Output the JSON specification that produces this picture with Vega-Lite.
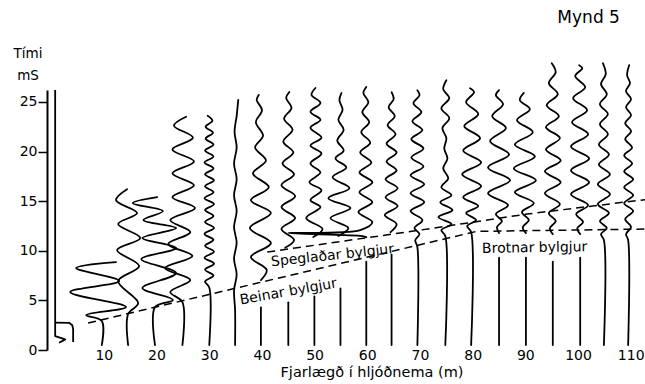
{
  "$schema": "https://vega.github.io/schema/vega-lite/v6.json",
  "width": 598,
  "height": 260,
  "autosize": {"type": "none"},
  "padding": {"left": 47, "top": 90, "right": 0, "bottom": 34},
  "background": "white",
  "config": {
    "view": {"stroke": null},
    "font": "DejaVu Sans",
    "axis": {"grid": false, "labelFont": "DejaVu Sans", "titleFont": "DejaVu Sans", "labelColor": "#000", "titleColor": "#000", "domainColor": "#000", "tickColor": "#000", "titleFontWeight": "normal"}
  },
  "datasets": {
    "w": [
      {"tr":"10","x":9.9,"t":0.5},{"tr":"10","x":9.9,"t":2.92},{"tr":"10","x":6.94,"t":3.52},{"tr":"10","x":14.5,"t":4.33},{"tr":"10","x":3.9,"t":5.84},{"tr":"10","x":13.2,"t":6.95},{"tr":"10","x":5.04,"t":8.26},{"tr":"10","x":12.6,"t":8.86},
      {"tr":"15","x":14.9,"t":0.5},{"tr":"15","x":14.9,"t":3.63},{"tr":"15","x":16.8,"t":4.73},{"tr":"15","x":13.0,"t":6.95},{"tr":"15","x":17.0,"t":8.46},{"tr":"15","x":12.8,"t":10.07},{"tr":"15","x":17.2,"t":11.28},{"tr":"15","x":13.0,"t":12.69},{"tr":"15","x":16.6,"t":13.8},{"tr":"15","x":12.6,"t":15.1},{"tr":"15","x":14.7,"t":16.2},
      {"tr":"20","x":20.0,"t":0.5},{"tr":"20","x":20.0,"t":4.33},{"tr":"20","x":23.4,"t":5.04},{"tr":"20","x":17.6,"t":6.24},{"tr":"20","x":24.0,"t":7.75},{"tr":"20","x":17.4,"t":9.16},{"tr":"20","x":24.0,"t":10.27},{"tr":"20","x":17.6,"t":11.28},{"tr":"20","x":24.0,"t":12.29},{"tr":"20","x":17.8,"t":13.09},{"tr":"20","x":21.5,"t":14.0},{"tr":"20","x":15.8,"t":14.8},{"tr":"20","x":20.4,"t":15.4},
      {"tr":"25","x":25.2,"t":0.5},{"tr":"25","x":25.2,"t":4.83},{"tr":"25","x":22.9,"t":5.84},{"tr":"25","x":26.7,"t":7.05},{"tr":"25","x":21.9,"t":8.26},{"tr":"25","x":27.1,"t":9.47},{"tr":"25","x":22.5,"t":10.67},{"tr":"25","x":26.7,"t":11.88},{"tr":"25","x":22.9,"t":13.09},{"tr":"25","x":27.6,"t":14.3},{"tr":"25","x":23.3,"t":15.4},{"tr":"25","x":27.4,"t":16.6},{"tr":"25","x":23.3,"t":17.8},{"tr":"25","x":27.4,"t":19.0},{"tr":"25","x":23.3,"t":20.2},{"tr":"25","x":27.2,"t":21.4},{"tr":"25","x":23.6,"t":22.6},{"tr":"25","x":25.9,"t":23.5},
      {"tr":"30","x":30.3,"t":0.5},{"tr":"30","x":30.3,"t":6.3},{"tr":"30","x":29.5,"t":6.9},{"tr":"30","x":31.1,"t":7.5},{"tr":"30","x":29.5,"t":8.1},{"tr":"30","x":31.2,"t":8.7},{"tr":"30","x":29.4,"t":9.3},{"tr":"30","x":31.2,"t":9.9},{"tr":"30","x":29.5,"t":10.5},{"tr":"30","x":31.1,"t":11.1},{"tr":"30","x":29.4,"t":11.7},{"tr":"30","x":31.2,"t":12.3},{"tr":"30","x":29.5,"t":12.9},{"tr":"30","x":31.1,"t":13.5},{"tr":"30","x":29.5,"t":14.1},{"tr":"30","x":31.2,"t":14.7},{"tr":"30","x":29.4,"t":15.3},{"tr":"30","x":31.1,"t":15.9},{"tr":"30","x":29.5,"t":16.5},{"tr":"30","x":31.2,"t":17.1},{"tr":"30","x":29.5,"t":17.7},{"tr":"30","x":31.1,"t":18.3},{"tr":"30","x":29.4,"t":18.9},{"tr":"30","x":31.1,"t":19.5},{"tr":"30","x":29.5,"t":20.1},{"tr":"30","x":31.1,"t":20.7},{"tr":"30","x":29.6,"t":21.3},{"tr":"30","x":31.0,"t":21.9},{"tr":"30","x":29.6,"t":22.5},{"tr":"30","x":30.9,"t":23.1},{"tr":"30","x":30.0,"t":23.6},
      {"tr":"35","x":35.2,"t":0.5},{"tr":"35","x":35.2,"t":4.0},{"tr":"35","x":35.0,"t":6.0},{"tr":"35","x":35.5,"t":7.6},{"tr":"35","x":35.0,"t":9.2},{"tr":"35","x":35.5,"t":10.8},{"tr":"35","x":35.0,"t":12.4},{"tr":"35","x":35.5,"t":14.0},{"tr":"35","x":35.0,"t":15.6},{"tr":"35","x":35.5,"t":17.2},{"tr":"35","x":35.0,"t":18.8},{"tr":"35","x":35.5,"t":20.4},{"tr":"35","x":35.1,"t":22.0},{"tr":"35","x":35.5,"t":23.6},{"tr":"35","x":35.8,"t":25.2},
      {"tr":"40a","x":40.1,"t":0.5},{"tr":"40a","x":40.1,"t":4.3},
      {"tr":"40b","x":40.1,"t":7.05},{"tr":"40b","x":41.2,"t":8.06},{"tr":"40b","x":38.2,"t":9.37},{"tr":"40b","x":42.0,"t":10.77},{"tr":"40b","x":38.0,"t":12.29},{"tr":"40b","x":42.0,"t":13.8},{"tr":"40b","x":38.2,"t":15.1},{"tr":"40b","x":41.6,"t":16.4},{"tr":"40b","x":38.6,"t":17.8},{"tr":"40b","x":41.05,"t":19.1},{"tr":"40b","x":39.0,"t":20.4},{"tr":"40b","x":40.5,"t":21.6},{"tr":"40b","x":39.15,"t":22.96},{"tr":"40b","x":40.3,"t":24.17},{"tr":"40b","x":39.3,"t":25.2},{"tr":"40b","x":39.7,"t":25.7},
      {"tr":"45a","x":45.3,"t":0.5},{"tr":"45a","x":45.3,"t":4.8},
      {"tr":"45b","x":44.7,"t":10.3},{"tr":"45b","x":46.4,"t":11.08},{"tr":"45b","x":44.0,"t":12.19},{"tr":"45b","x":46.6,"t":13.29},{"tr":"45b","x":44.0,"t":14.4},{"tr":"45b","x":46.6,"t":15.5},{"tr":"45b","x":44.0,"t":16.6},{"tr":"45b","x":46.4,"t":17.7},{"tr":"45b","x":44.2,"t":18.8},{"tr":"45b","x":46.25,"t":19.9},{"tr":"45b","x":44.35,"t":21.0},{"tr":"45b","x":46.1,"t":22.2},{"tr":"45b","x":44.5,"t":23.3},{"tr":"45b","x":45.9,"t":24.4},{"tr":"45b","x":44.9,"t":25.4},{"tr":"45b","x":45.5,"t":26.0},
      {"tr":"50a","x":50.25,"t":0.5},{"tr":"50a","x":50.25,"t":5.4},
      {"tr":"50b","x":50.05,"t":11.38},{"tr":"50b","x":51.8,"t":12.19},{"tr":"50b","x":48.7,"t":13.29},{"tr":"50b","x":51.4,"t":14.4},{"tr":"50b","x":49.5,"t":15.1},{"tr":"50b","x":51.6,"t":16.1},{"tr":"50b","x":49.3,"t":16.9},{"tr":"50b","x":51.4,"t":17.9},{"tr":"50b","x":49.5,"t":18.8},{"tr":"50b","x":51.6,"t":19.8},{"tr":"50b","x":49.5,"t":20.6},{"tr":"50b","x":51.6,"t":21.4},{"tr":"50b","x":49.5,"t":22.4},{"tr":"50b","x":51.4,"t":23.2},{"tr":"50b","x":49.5,"t":24.0},{"tr":"50b","x":51.4,"t":24.9},{"tr":"50b","x":49.7,"t":25.7},{"tr":"50b","x":50.45,"t":26.4},
      {"tr":"55a","x":55.2,"t":0.5},{"tr":"55a","x":55.2,"t":6.2},
      {"tr":"55b","x":54.8,"t":11.48},{"tr":"55b","x":56.7,"t":12.29},{"tr":"55b","x":53.3,"t":13.29},{"tr":"55b","x":57.1,"t":14.3},{"tr":"55b","x":52.9,"t":15.3},{"tr":"55b","x":56.9,"t":16.3},{"tr":"55b","x":53.7,"t":17.4},{"tr":"55b","x":56.3,"t":18.4},{"tr":"55b","x":54.25,"t":19.3},{"tr":"55b","x":55.8,"t":20.1},{"tr":"55b","x":54.6,"t":21.1},{"tr":"55b","x":55.8,"t":22.2},{"tr":"55b","x":54.8,"t":23.2},{"tr":"55b","x":55.6,"t":24.2},{"tr":"55b","x":55.0,"t":25.2},{"tr":"55b","x":55.4,"t":25.9},
      {"tr":"60a","x":60.1,"t":0.5},{"tr":"60a","x":60.1,"t":8.9},
      {"tr":"60b","x":60.1,"t":11.38},{"tr":"60b","x":59.35,"t":11.48},{"tr":"60b","x":45.3,"t":11.78},{"tr":"60b","x":58.95,"t":12.08},{"tr":"60b","x":61.25,"t":12.89},{"tr":"60b","x":58.6,"t":13.9},{"tr":"60b","x":61.25,"t":14.9},{"tr":"60b","x":58.8,"t":15.9},{"tr":"60b","x":61.25,"t":16.9},{"tr":"60b","x":58.8,"t":17.9},{"tr":"60b","x":61.05,"t":18.9},{"tr":"60b","x":58.95,"t":19.9},{"tr":"60b","x":60.85,"t":20.9},{"tr":"60b","x":59.15,"t":21.95},{"tr":"60b","x":60.65,"t":22.96},{"tr":"60b","x":59.35,"t":23.97},{"tr":"60b","x":60.5,"t":24.97},{"tr":"60b","x":59.55,"t":25.9},{"tr":"60b","x":60.1,"t":26.5},
      {"tr":"65a","x":64.9,"t":0.5},{"tr":"65a","x":64.9,"t":9.6},
      {"tr":"65b","x":64.7,"t":11.88},{"tr":"65b","x":65.85,"t":12.69},{"tr":"65b","x":63.6,"t":13.6},{"tr":"65b","x":66.05,"t":14.5},{"tr":"65b","x":63.75,"t":15.4},{"tr":"65b","x":66.05,"t":16.3},{"tr":"65b","x":63.75,"t":17.2},{"tr":"65b","x":65.85,"t":18.1},{"tr":"65b","x":63.95,"t":19.0},{"tr":"65b","x":65.85,"t":19.9},{"tr":"65b","x":63.95,"t":20.8},{"tr":"65b","x":65.65,"t":21.75},{"tr":"65b","x":64.15,"t":22.66},{"tr":"65b","x":65.5,"t":23.56},{"tr":"65b","x":64.35,"t":24.47},{"tr":"65b","x":65.3,"t":25.28},{"tr":"65b","x":64.9,"t":25.98},
      {"tr":"70","x":69.8,"t":0.5},{"tr":"70","x":69.8,"t":10.37},{"tr":"70","x":69.4,"t":11.08},{"tr":"70","x":70.2,"t":11.68},{"tr":"70","x":69.25,"t":12.29},{"tr":"70","x":70.75,"t":13.09},{"tr":"70","x":68.5,"t":14.0},{"tr":"70","x":71.1,"t":14.9},{"tr":"70","x":68.5,"t":15.8},{"tr":"70","x":71.1,"t":16.7},{"tr":"70","x":68.5,"t":17.6},{"tr":"70","x":70.95,"t":18.5},{"tr":"70","x":68.65,"t":19.4},{"tr":"70","x":70.95,"t":20.3},{"tr":"70","x":68.65,"t":21.25},{"tr":"70","x":70.75,"t":22.16},{"tr":"70","x":68.85,"t":23.06},{"tr":"70","x":70.55,"t":23.97},{"tr":"70","x":69.05,"t":24.87},{"tr":"70","x":70.2,"t":25.68},{"tr":"70","x":69.8,"t":26.18},
      {"tr":"75","x":75.1,"t":0.5},{"tr":"75","x":75.1,"t":11.48},{"tr":"75","x":74.35,"t":12.08},{"tr":"75","x":76.25,"t":12.69},{"tr":"75","x":73.8,"t":13.39},{"tr":"75","x":76.45,"t":14.1},{"tr":"75","x":74.15,"t":14.9},{"tr":"75","x":76.25,"t":15.6},{"tr":"75","x":74.35,"t":16.4},{"tr":"75","x":75.65,"t":17.3},{"tr":"75","x":74.7,"t":18.3},{"tr":"75","x":75.5,"t":19.3},{"tr":"75","x":74.9,"t":20.3},{"tr":"75","x":75.3,"t":21.35},{"tr":"75","x":74.55,"t":22.36},{"tr":"75","x":75.85,"t":23.36},{"tr":"75","x":74.35,"t":24.37},{"tr":"75","x":75.85,"t":25.38},{"tr":"75","x":74.7,"t":26.28},{"tr":"75","x":75.3,"t":27.19},
      {"tr":"80","x":80.0,"t":0.5},{"tr":"80","x":80.0,"t":11.88},{"tr":"80","x":79.25,"t":12.49},{"tr":"80","x":80.95,"t":13.09},{"tr":"80","x":79.05,"t":13.8},{"tr":"80","x":81.35,"t":14.5},{"tr":"80","x":78.5,"t":15.4},{"tr":"80","x":81.9,"t":16.5},{"tr":"80","x":78.3,"t":17.7},{"tr":"80","x":81.9,"t":18.9},{"tr":"80","x":78.5,"t":20.1},{"tr":"80","x":81.7,"t":21.35},{"tr":"80","x":78.7,"t":22.56},{"tr":"80","x":81.35,"t":23.77},{"tr":"80","x":79.05,"t":24.97},{"tr":"80","x":80.55,"t":25.98},{"tr":"80","x":79.8,"t":26.38},
      {"tr":"85a","x":85.3,"t":0.5},{"tr":"85a","x":85.3,"t":9.3},
      {"tr":"85b","x":85.3,"t":11.78},{"tr":"85b","x":84.9,"t":12.39},{"tr":"85b","x":85.85,"t":12.99},{"tr":"85b","x":84.7,"t":13.7},{"tr":"85b","x":87.0,"t":14.6},{"tr":"85b","x":83.2,"t":15.8},{"tr":"85b","x":87.4,"t":17.1},{"tr":"85b","x":83.2,"t":18.4},{"tr":"85b","x":87.2,"t":19.7},{"tr":"85b","x":83.6,"t":21.05},{"tr":"85b","x":86.6,"t":22.36},{"tr":"85b","x":84.0,"t":23.56},{"tr":"85b","x":86.05,"t":24.77},{"tr":"85b","x":84.7,"t":25.68},{"tr":"85b","x":85.3,"t":26.18},
      {"tr":"90a","x":90.4,"t":0.5},{"tr":"90a","x":90.4,"t":9.3},
      {"tr":"90b","x":90.4,"t":11.78},{"tr":"90b","x":89.8,"t":12.39},{"tr":"90b","x":90.95,"t":13.09},{"tr":"90b","x":89.65,"t":13.9},{"tr":"90b","x":91.9,"t":14.8},{"tr":"90b","x":88.3,"t":15.9},{"tr":"90b","x":92.3,"t":17.1},{"tr":"90b","x":88.1,"t":18.3},{"tr":"90b","x":92.1,"t":19.5},{"tr":"90b","x":88.3,"t":20.7},{"tr":"90b","x":91.7,"t":21.95},{"tr":"90b","x":88.7,"t":23.16},{"tr":"90b","x":91.15,"t":24.27},{"tr":"90b","x":89.25,"t":25.18},{"tr":"90b","x":90.0,"t":25.9},
      {"tr":"95a","x":95.5,"t":0.5},{"tr":"95a","x":95.5,"t":8.9},
      {"tr":"95b","x":95.5,"t":11.68},{"tr":"95b","x":94.95,"t":12.29},{"tr":"95b","x":96.05,"t":12.99},{"tr":"95b","x":94.75,"t":13.8},{"tr":"95b","x":96.85,"t":14.7},{"tr":"95b","x":94.0,"t":15.8},{"tr":"95b","x":97.0,"t":16.9},{"tr":"95b","x":94.0,"t":18.0},{"tr":"95b","x":97.0,"t":19.1},{"tr":"95b","x":94.2,"t":20.2},{"tr":"95b","x":96.85,"t":21.35},{"tr":"95b","x":94.2,"t":22.46},{"tr":"95b","x":96.65,"t":23.56},{"tr":"95b","x":94.35,"t":24.67},{"tr":"95b","x":96.45,"t":25.78},{"tr":"95b","x":94.75,"t":26.89},{"tr":"95b","x":96.05,"t":28.0},{"tr":"95b","x":95.3,"t":28.9},
      {"tr":"100a","x":100.7,"t":0.5},{"tr":"100a","x":100.7,"t":9.3},
      {"tr":"100b","x":100.7,"t":11.68},{"tr":"100b","x":100.15,"t":12.29},{"tr":"100b","x":101.25,"t":12.89},{"tr":"100b","x":99.95,"t":13.7},{"tr":"100b","x":102.2,"t":14.6},{"tr":"100b","x":98.95,"t":15.7},{"tr":"100b","x":102.4,"t":16.9},{"tr":"100b","x":98.95,"t":18.1},{"tr":"100b","x":102.4,"t":19.3},{"tr":"100b","x":98.95,"t":20.5},{"tr":"100b","x":102.2,"t":21.75},{"tr":"100b","x":99.15,"t":22.96},{"tr":"100b","x":102.0,"t":24.17},{"tr":"100b","x":99.35,"t":25.38},{"tr":"100b","x":101.65,"t":26.48},{"tr":"100b","x":99.75,"t":27.6},{"tr":"100b","x":101.1,"t":28.4},{"tr":"100b","x":100.5,"t":28.7},
      {"tr":"105","x":105.2,"t":0.5},{"tr":"105","x":105.2,"t":11.08},{"tr":"105","x":104.65,"t":11.68},{"tr":"105","x":105.75,"t":12.29},{"tr":"105","x":104.45,"t":12.99},{"tr":"105","x":106.15,"t":13.8},{"tr":"105","x":104.05,"t":14.7},{"tr":"105","x":106.35,"t":15.7},{"tr":"105","x":104.05,"t":16.7},{"tr":"105","x":106.35,"t":17.7},{"tr":"105","x":104.25,"t":18.7},{"tr":"105","x":106.15,"t":19.7},{"tr":"105","x":104.25,"t":20.7},{"tr":"105","x":105.95,"t":21.75},{"tr":"105","x":104.45,"t":22.76},{"tr":"105","x":105.95,"t":23.77},{"tr":"105","x":104.45,"t":24.77},{"tr":"105","x":105.75,"t":25.78},{"tr":"105","x":104.65,"t":26.79},{"tr":"105","x":105.55,"t":27.79},{"tr":"105","x":105.0,"t":28.9},
      {"tr":"110","x":109.8,"t":0.5},{"tr":"110","x":109.8,"t":11.08},{"tr":"110","x":109.4,"t":11.68},{"tr":"110","x":110.35,"t":12.39},{"tr":"110","x":109.25,"t":13.19},{"tr":"110","x":110.75,"t":14.0},{"tr":"110","x":109.05,"t":14.8},{"tr":"110","x":110.75,"t":15.6},{"tr":"110","x":109.05,"t":16.4},{"tr":"110","x":110.75,"t":17.2},{"tr":"110","x":109.05,"t":18.0},{"tr":"110","x":110.55,"t":18.8},{"tr":"110","x":109.05,"t":19.6},{"tr":"110","x":110.55,"t":20.4},{"tr":"110","x":109.25,"t":21.25},{"tr":"110","x":110.35,"t":22.05},{"tr":"110","x":109.25,"t":22.86},{"tr":"110","x":110.35,"t":23.66},{"tr":"110","x":109.4,"t":24.47},{"tr":"110","x":110.35,"t":25.28},{"tr":"110","x":109.4,"t":26.08},{"tr":"110","x":110.15,"t":26.89},{"tr":"110","x":109.6,"t":27.69},{"tr":"110","x":110.0,"t":28.7}
    ],
    "s": [
      {"tr":"ta","x":1.05,"t":26.2},{"tr":"ta","x":1.05,"t":1.4},{"tr":"ta","x":2.95,"t":1.07},{"tr":"ta","x":1.8,"t":0.73},
      {"tr":"tb","x":1.05,"t":2.76},{"tr":"tb","x":3.7,"t":2.74},{"tr":"tb","x":4.3,"t":2.5},{"tr":"tb","x":4.46,"t":2.1},{"tr":"tb","x":4.46,"t":0.8}
    ],
    "d": [
      {"tr":"beinar","x":7.3,"t":2.72},{"tr":"beinar","x":81.0,"t":11.95},{"tr":"beinar","x":113.0,"t":12.19},
      {"tr":"spegl","x":41.3,"t":9.87},{"tr":"spegl","x":70.3,"t":12.08},{"tr":"spegl","x":90.6,"t":13.7},{"tr":"spegl","x":113.0,"t":15.15}
    ]
  },
  "encoding": {
    "x": {
      "field": "x", "type": "quantitative",
      "scale": {"domain": [-0.5, 113], "nice": false, "zero": false},
      "axis": {
        "values": [10, 20, 30, 40, 50, 60, 70, 80, 90, 100, 110],
        "domain": false, "ticks": false, "tickSize": 0,
        "labelFontSize": 14, "labelPadding": -2, "labelOffset": 1.5, "labelFlush": false,
        "title": "Fjarlægð í hljóðnema (m)", "titleFontSize": 14.5,
        "titleX": 324.5, "titleY": 15, "titleAlign": "center", "titleBaseline": "top", "titleAnchor": null
      }
    },
    "y": {
      "field": "t", "type": "quantitative",
      "scale": {"domain": [0, 26.2], "nice": false, "zero": true},
      "axis": {
        "values": [0, 5, 10, 15, 20, 25],
        "domain": true, "domainWidth": 2, "ticks": true, "tickSize": 9, "tickWidth": 1.5,
        "labelFontSize": 14, "labelPadding": 1,
        "title": ["Tími", "mS"], "titleFontSize": 13.5, "titleAngle": 0,
        "titleX": -19.5, "titleY": -44, "titleAlign": "center", "titleBaseline": "top", "titleLineHeight": 22
      }
    }
  },
  "layer": [
    {
      "data": {"name": "w"},
      "mark": {"type": "line", "interpolate": "catmull-rom", "color": "#000", "strokeWidth": 1.8, "strokeCap": "round", "strokeJoin": "round"},
      "encoding": {"detail": {"field": "tr"}, "order": {"field": "t", "type": "quantitative"}}
    },
    {
      "data": {"name": "s"},
      "mark": {"type": "line", "interpolate": "linear", "color": "#000", "strokeWidth": 1.8, "strokeJoin": "round"},
      "encoding": {"detail": {"field": "tr"}, "order": {"field": "t", "type": "quantitative"}}
    },
    {
      "data": {"name": "d"},
      "mark": {"type": "line", "interpolate": "linear", "color": "#000", "strokeWidth": 1.5, "strokeDash": [8, 5]},
      "encoding": {"detail": {"field": "tr"}, "order": {"field": "x", "type": "quantitative"}}
    },
    {
      "data": {"values": [{"label": "Speglaðar bylgjur", "x": 53.7, "t": 9.5}]},
      "mark": {"type": "text", "fontSize": 14, "angle": -6, "align": "center", "baseline": "middle", "color": "#000"},
      "encoding": {"text": {"field": "label"}}
    },
    {
      "data": {"values": [{"label": "Beinar bylgjur", "x": 45.3, "t": 5.85}]},
      "mark": {"type": "text", "fontSize": 14, "angle": -10, "align": "center", "baseline": "middle", "color": "#000"},
      "encoding": {"text": {"field": "label"}}
    },
    {
      "data": {"values": [{"label": "Brotnar bylgjur", "x": 92.05, "t": 10.27}]},
      "mark": {"type": "text", "fontSize": 14, "angle": -1, "align": "center", "baseline": "middle", "color": "#000"},
      "encoding": {"text": {"field": "label"}}
    },
    {
      "data": {"values": [{"label": "Mynd 5", "x": 102.3, "t": 33.43}]},
      "mark": {"type": "text", "fontSize": 17, "align": "center", "baseline": "middle", "color": "#000"},
      "encoding": {"text": {"field": "label"}}
    }
  ]
}
